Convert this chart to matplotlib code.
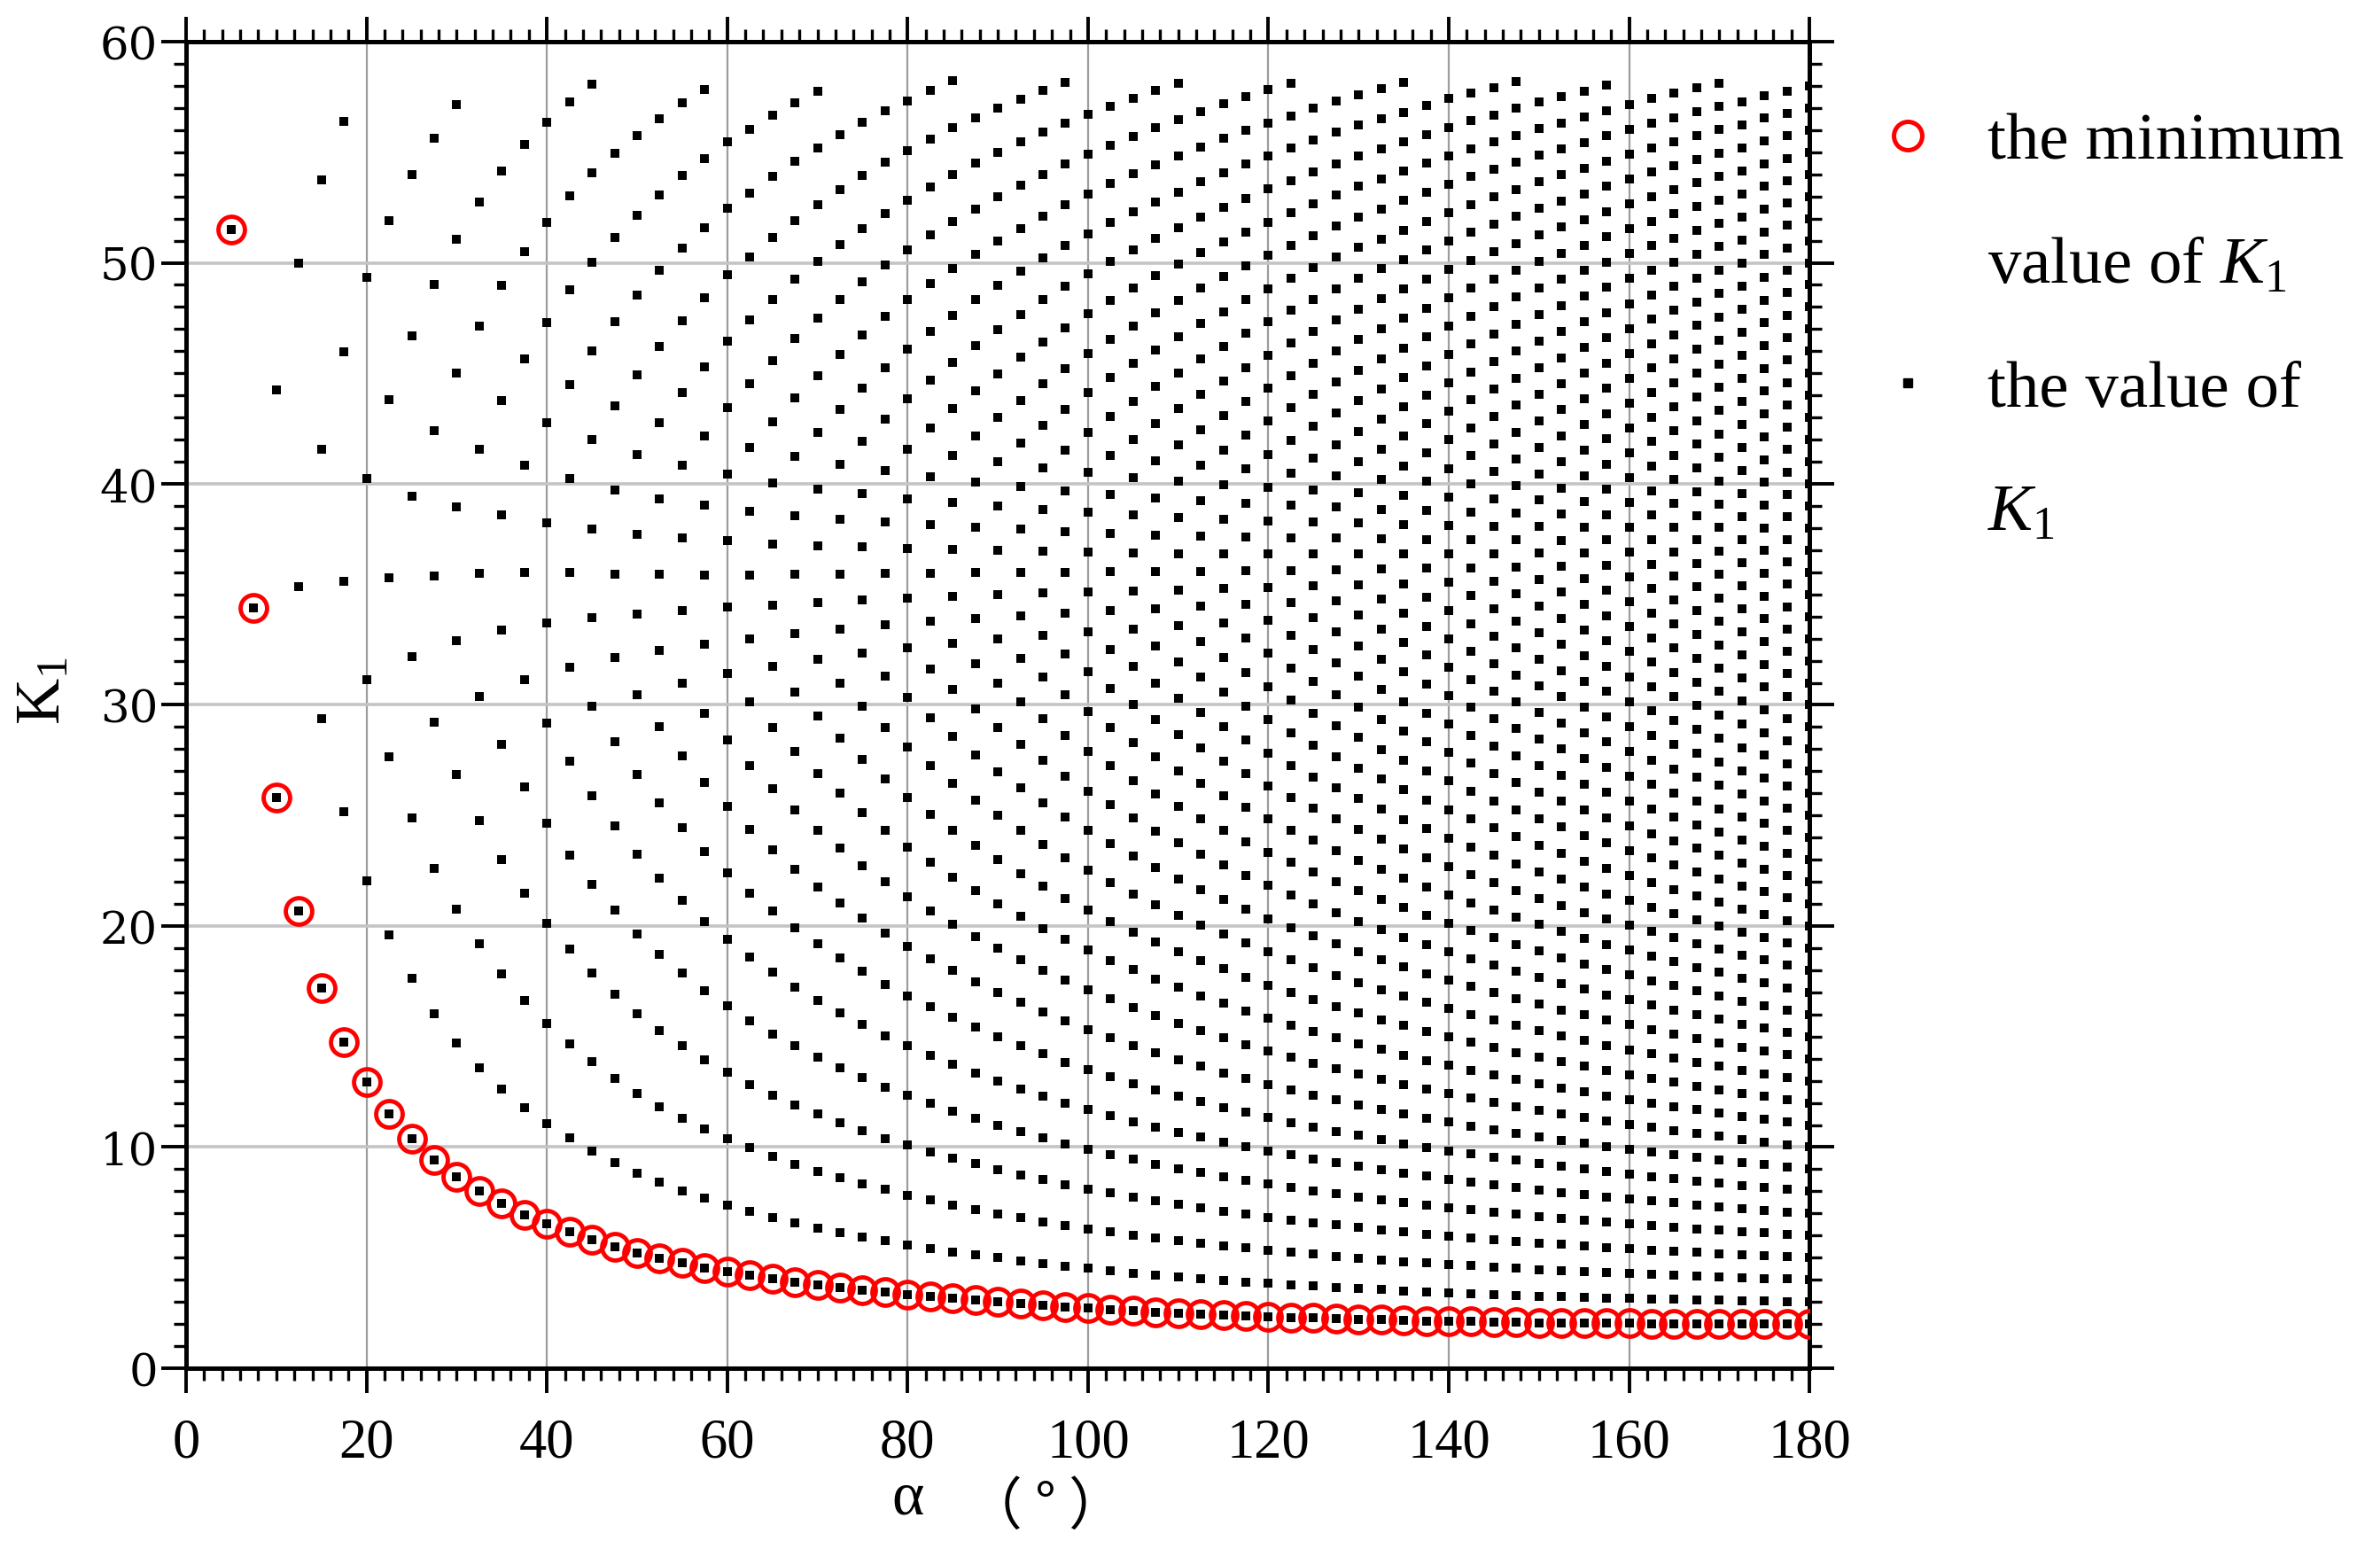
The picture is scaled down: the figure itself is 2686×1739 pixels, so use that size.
import numpy as np
import matplotlib
matplotlib.use('Agg')
import matplotlib.pyplot as plt
from matplotlib.lines import Line2D
from matplotlib.ticker import MultipleLocator

plt.rcParams['mathtext.fontset'] = 'custom'
plt.rcParams['mathtext.rm'] = 'Liberation Serif'
plt.rcParams['mathtext.it'] = 'Liberation Serif:italic'

# alpha (deg) of every column of points
alpha = [5.0, 7.5, 10.0, 12.5, 15.0, 17.5, 20.0, 22.5, 25.0, 27.5,
         30.0, 32.5, 35.0, 37.5, 40.0, 42.5, 45.0, 47.5, 50.0, 52.5,
         55.0, 57.5, 60.0, 62.5, 65.0, 67.5, 70.0, 72.5, 75.0, 77.5,
         80.0, 82.5, 85.0, 87.5, 90.0, 92.5, 95.0, 97.5, 100.0, 102.5,
         105.0, 107.5, 110.0, 112.5, 115.0, 117.5, 120.0, 122.5, 125.0, 127.5,
         130.0, 132.5, 135.0, 137.5, 140.0, 142.5, 145.0, 147.5, 150.0, 152.5,
         155.0, 157.5, 160.0, 162.5, 165.0, 167.5, 170.0, 172.5, 175.0, 177.5,
         180.0]

# minimum K1 of each column (red circles)
k1_min = [51.5, 34.4, 25.8, 20.7, 17.2, 14.76, 12.93, 11.5, 10.36, 9.42,
          8.66, 8.01, 7.45, 6.95, 6.53, 6.16, 5.81, 5.49, 5.21, 4.96,
          4.75, 4.54, 4.37, 4.20, 4.05, 3.90, 3.77, 3.65, 3.54, 3.43,
          3.33, 3.24, 3.15, 3.07, 2.99, 2.91, 2.84, 2.77, 2.71, 2.65,
          2.59, 2.54, 2.49, 2.45, 2.41, 2.37, 2.33, 2.30, 2.27, 2.24,
          2.21, 2.19, 2.16, 2.14, 2.12, 2.11, 2.09, 2.08, 2.06, 2.05,
          2.04, 2.03, 2.03, 2.02, 2.02, 2.01, 2.01, 2.00, 2.00, 2.00,
          2.00]

# spacing between the K1 values of one column
k1_step = [36.0, 24.0, 18.45, 14.65, 12.18, 10.41, 9.10, 8.08, 7.27, 6.60,
           6.06, 5.59, 5.19, 4.84, 4.53, 4.26, 4.02, 3.805, 3.61, 3.437,
           3.28, 3.135, 3.005, 2.88, 2.769, 2.667, 2.571, 2.483, 2.40, 2.323,
           2.25, 2.182, 2.118, 2.057, 2.00, 1.946, 1.895, 1.846, 1.80, 1.756,
           1.714, 1.674, 1.636, 1.60, 1.565, 1.532, 1.50, 1.469, 1.44, 1.412,
           1.385, 1.358, 1.333, 1.309, 1.286, 1.263, 1.241, 1.220, 1.20, 1.180,
           1.161, 1.143, 1.125, 1.108, 1.091, 1.075, 1.059, 1.043, 1.029, 1.014,
           1.00]

k1_top = 58.25   # highest K1 shown

xs, ys = [], []
for a, m, d in zip(alpha, k1_min, k1_step):
    v = np.arange(m, k1_top, d)
    xs += [a] * len(v)
    ys += list(v)

fig = plt.figure(figsize=(26.86, 17.40), dpi=100)
ax = fig.add_axes([0.0782, 0.1121, 0.6821, 0.8603])

ax.plot(alpha, k1_min, 'o', ms=21.5, mfc='none', mec='#ff0000', mew=3.5, zorder=3)
ax.scatter(xs, ys, marker='s', s=44, c='black', linewidths=0, zorder=4)

ax.set_xlim(0, 180)
ax.set_ylim(0, 60)
ax.xaxis.set_major_locator(MultipleLocator(20))
ax.xaxis.set_minor_locator(MultipleLocator(2))
ax.yaxis.set_major_locator(MultipleLocator(10))
ax.yaxis.set_minor_locator(MultipleLocator(1))
ax.tick_params(which='both', direction='out', top=True, right=True,
               labeltop=False, labelright=False, color='black')
ax.tick_params(which='major', length=20, width=2.8)
ax.tick_params(which='minor', length=10, width=2.4)
ax.tick_params(axis='x', labelsize=45, pad=20)
ax.tick_params(axis='y', labelsize=37, pad=3)
for lab in ax.get_xticklabels():
    lab.set_fontfamily('Liberation Serif')
for lab in ax.get_yticklabels():
    lab.set_fontfamily('DejaVu Serif')

ax.set_axisbelow(True)
ax.xaxis.grid(True, color='#9c9c9c', lw=1.6)
ax.yaxis.grid(True, color='#c4c4c4', lw=2.6)
for s in ax.spines.values():
    s.set_linewidth(3.6)
    s.set_color('black')

fig.text(48 / 2686, 1 - 779 / 1740, r'$\mathrm{K_1}$', rotation=90,
         ha='center', va='center', fontsize=52)
fig.text(1025 / 2686, 1 - 1692 / 1740, 'α', ha='center', va='center',
         fontsize=50, family='Liberation Serif')
fig.text(1180 / 2686, 1 - 1702 / 1740, '（ ° ）', ha='center', va='center',
         fontsize=46, family='Noto Sans CJK SC')

blank = Line2D([], [], ls='none', marker=None)
handles = [Line2D([], [], ls='none', marker='o', ms=23, mfc='none', mec='#ff0000', mew=3.6),
           blank,
           Line2D([], [], ls='none', marker='s', ms=7, mfc='black', mec='black'),
           blank]
labels = ['the minimum', r'value of $\mathit{K}_\mathit{1}$',
          'the value of', r'$\mathit{K}_\mathit{1}$']
leg = ax.legend(handles, labels, loc='upper left', bbox_to_anchor=(1.048, 0.947),
                frameon=False, prop={'family': 'Liberation Serif', 'size': 54},
                handlelength=0.6, handletextpad=0.9, labelspacing=0.95,
                borderpad=0, borderaxespad=0)

fig.savefig('out.png', dpi=100)
